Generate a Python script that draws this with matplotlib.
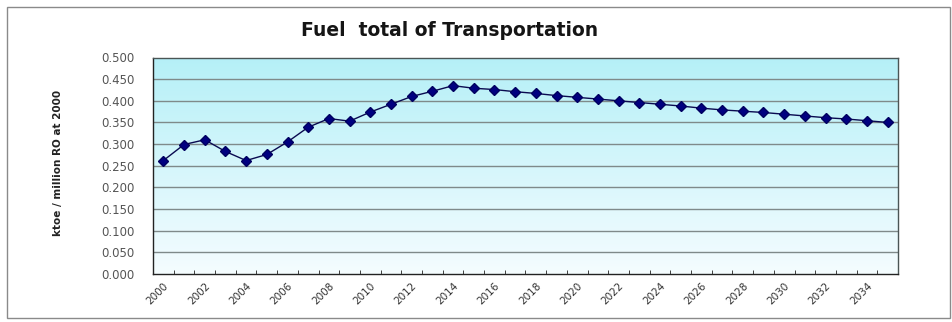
import numpy as np
import matplotlib
matplotlib.use("Agg")
import matplotlib.pyplot as plt
from matplotlib.patches import Rectangle

years = list(range(2000, 2036))
fuel_intensity = [
    0.262, 0.299, 0.310, 0.283, 0.262, 0.276, 0.305, 0.339, 0.359, 0.353,
    0.374, 0.392, 0.410, 0.422, 0.435, 0.429, 0.426, 0.421, 0.417, 0.412,
    0.408, 0.404, 0.400, 0.396, 0.392, 0.388, 0.383, 0.379, 0.376, 0.373,
    0.369, 0.365, 0.361, 0.358, 0.354, 0.350,
]
y_ticks = [0.0, 0.05, 0.1, 0.15, 0.2, 0.25, 0.3, 0.35, 0.4, 0.45, 0.5]
title = "Fuel  total of Transportation"
y_label = "ktoe / million RO at 2000"

W, H = 953, 322
fig = plt.figure(figsize=(W / 100, H / 100), dpi=100)
fig.patch.set_facecolor("white")

# outer chart frame
fig.add_artist(Rectangle((7 / W, 4 / H), 943 / W, 311 / H, transform=fig.transFigure,
                         fill=False, edgecolor="#8a8a8a", linewidth=1.0))

ax = fig.add_axes([153 / W, 1 - 274 / H, (898 - 153) / W, (274 - 57.5) / H])

n = len(years)
xs = np.arange(n)

# vertical gradient fill of the plot area (cyan at the top, near white at the bottom)
grad = np.linspace(0, 1, 256).reshape(-1, 1)
top = np.array([0.71, 0.94, 0.97])
bot = np.array([0.96, 0.99, 1.0])
img = top[None, None, :] * (1 - grad[..., None]) + bot[None, None, :] * grad[..., None]
ax.imshow(img, extent=[-0.5, n - 0.5, 0, 0.5], origin="upper", aspect="auto", zorder=0)
ax.set_xlim(-0.5, n - 0.5)
ax.set_ylim(0, 0.5)

for v in y_ticks[1:-1]:
    ax.axhline(v, color="#7f8a8a", linewidth=1.0, zorder=1)

ax.plot(xs, fuel_intensity, color="#0a0a50", linewidth=1.0, zorder=3)
ax.plot(xs, fuel_intensity, linestyle="none", marker="D", markersize=5,
        color="#000080", markeredgecolor="#000060", zorder=4)

for s in ax.spines.values():
    s.set_color("#4a5555")
    s.set_linewidth(1.0)
ax.spines["left"].set_color("#222222")
ax.spines["bottom"].set_color("#222222")

ax.set_yticks(y_ticks)
ax.set_yticklabels([f"{v:.3f}" for v in y_ticks], fontsize=8.5, color="#555555",
                   family="DejaVu Sans")
ax.tick_params(axis="y", length=0, pad=13)

ax.set_xticks(np.arange(-0.5, n, 1.0), minor=True)
ax.tick_params(axis="x", which="minor", direction="in", length=3, color="#222222")
ax.set_xticks(xs[::2])
ax.set_xticklabels([str(y) for y in years[::2]], rotation=45, ha="right",
                   rotation_mode="anchor", fontsize=7.5, color="#333333",
                   family="DejaVu Sans")
ax.tick_params(axis="x", which="major", length=0, pad=5)

fig.text(450 / W, 1 - 31 / H, title, ha="center", va="center", fontsize=13.5,
         fontweight="bold", color="#151515", family="DejaVu Sans")
fig.text(58 / W, 1 - 163 / H, y_label, rotation=90, ha="center", va="center",
         fontsize=7.5, fontweight="bold", color="#222222",
         family=["Liberation Sans Narrow", "DejaVu Sans"])

fig.savefig("out.png", dpi=100)
